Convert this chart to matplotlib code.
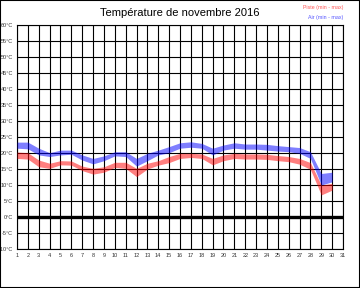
import numpy as np
import matplotlib
matplotlib.use("Agg")
import matplotlib.pyplot as plt

plt.rcParams['font.family'] = ['Liberation Sans', 'DejaVu Sans']

days = list(range(1, 31))
# Air (min - max)
air_max = [23.4, 23.4, 21.5, 20.1, 20.9, 20.9, 19.4, 18.3, 19.1, 20.4,
           20.4, 18.3, 19.9, 20.9, 22.0, 23.2, 23.5, 23.0, 21.5, 22.5,
           23.2, 22.8, 22.8, 22.7, 22.3, 22.0, 21.7, 20.4, 13.6, 14.0]
air_min = [21.5, 21.3, 19.4, 18.9, 19.4, 19.6, 17.8, 16.6, 17.6, 19.1,
           18.9, 15.9, 17.6, 19.4, 20.1, 21.5, 21.8, 21.5, 19.4, 20.9,
           21.5, 21.2, 21.2, 20.9, 20.6, 20.4, 19.9, 18.3, 10.0, 11.0]
# Piste (min - max)
piste_max = [20.3, 20.1, 17.8, 16.8, 17.6, 17.5, 15.9, 15.2, 15.7, 17.1,
             17.1, 15.2, 16.8, 17.6, 18.9, 19.9, 19.9, 19.7, 18.3, 19.4,
             19.9, 19.7, 19.7, 19.6, 19.2, 18.9, 18.3, 17.0, 10.0, 10.5]
piste_min = [18.3, 18.1, 15.7, 15.2, 16.3, 16.2, 14.5, 13.4, 14.0, 15.5,
             15.2, 12.6, 15.0, 16.2, 17.0, 18.3, 18.6, 18.3, 16.3, 17.6,
             18.3, 18.1, 18.1, 18.0, 17.6, 17.3, 16.5, 14.9, 6.9, 8.4]

x_ticks = list(range(1, 32))
y_ticks = list(range(-10, 61, 5))
y_labels = [f"{t}°C" for t in y_ticks]

fig = plt.figure(figsize=(3.6, 2.88), dpi=100)
ax = fig.add_axes([17/360, 1-249/288, 326/360, 224/288])

ax.fill_between(days, piste_min, piste_max, color='red', alpha=0.5, lw=0, zorder=3)
ax.fill_between(days, air_min, air_max, color='blue', alpha=0.5, lw=0, zorder=3)

ax.set_xlim(1, 31)
ax.set_ylim(-10, 60)
ax.set_xticks(x_ticks)
ax.set_yticks(y_ticks)
ax.set_yticklabels(y_labels)
ax.tick_params(length=0, labelsize=4, colors='#333333', pad=3)
ax.grid(True, color='black', lw=0.8, zorder=1)
ax.set_axisbelow(True)
ax.axhline(0, color='black', lw=2.4, zorder=2)
for s in ax.spines.values():
    s.set_linewidth(0.8)

fig.text(0.5, 1-13/288, "Température de novembre 2016", ha='center', va='center', fontsize=8)
fig.text(343/360, 1-8/288, "Piste (min - max)", ha='right', va='center', fontsize=3.8, color='#ff5555')
fig.text(343/360, 1-17/288, "Air (min - max)", ha='right', va='center', fontsize=3.8, color='#5555ff')

fig.patches.append(plt.Rectangle((0, 0), 1, 1, transform=fig.transFigure, fill=False,
                                 edgecolor='black', lw=1.5, zorder=10))

fig.savefig("out.png", dpi=100)
